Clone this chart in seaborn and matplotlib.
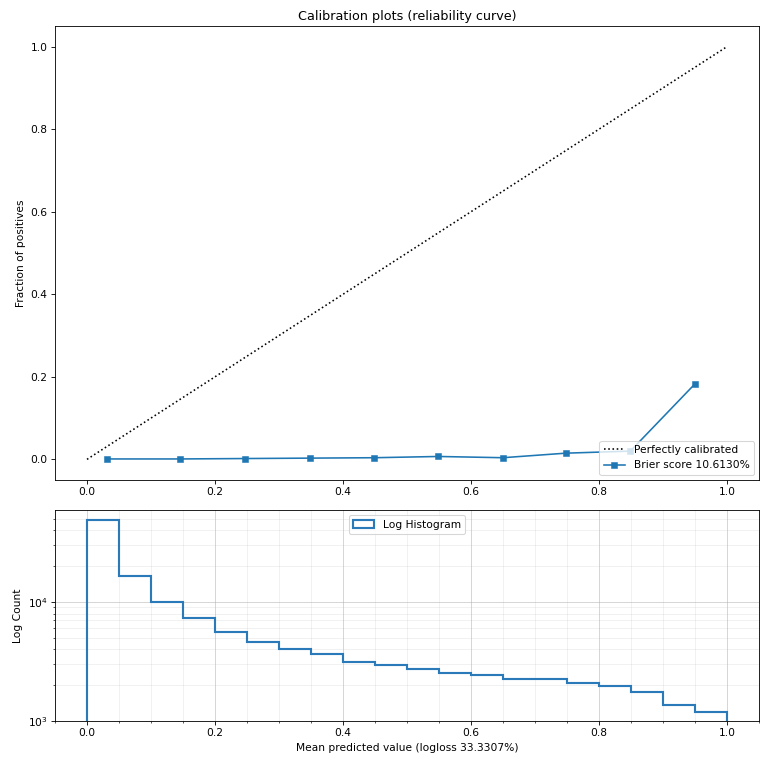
import numpy as np
import pandas as pd
import matplotlib
matplotlib.use("Agg")
import matplotlib.pyplot as plt
import seaborn as sns
from matplotlib.ticker import AutoMinorLocator

# Calibration curve data
mean_pred = [0.031, 0.145, 0.247, 0.348, 0.449, 0.549, 0.650, 0.748, 0.849, 0.950]
frac_pos = [0.001, 0.001, 0.002, 0.003, 0.004, 0.007, 0.004, 0.015, 0.020, 0.183]
perfect_x = [0.0, 1.0]
perfect_y = [0.0, 1.0]

# Histogram data (20 bins of width 0.05)
bin_edges = [round(0.05 * i, 2) for i in range(21)]
bin_counts = [49000, 16500, 10000, 7350, 5610, 4590, 4050, 3650, 3130, 2930,
              2730, 2510, 2430, 2270, 2270, 2070, 1950, 1740, 1350, 1200]

brier_label = "Brier score 10.6130%"
logloss_label = "Mean predicted value (logloss 33.3307%)"

DPI = 76.7
fig = plt.figure(figsize=(760 / DPI, 765 / DPI), dpi=DPI)
ax1 = fig.add_axes([55 / 760, (765 - 480) / 765, 704 / 760, 454 / 765])
ax2 = fig.add_axes([55 / 760, (765 - 721) / 765, 704 / 760, 211 / 765])

df_perfect = pd.DataFrame({"x": perfect_x, "y": perfect_y})
df_cal = pd.DataFrame({"x": mean_pred, "y": frac_pos})

sns.lineplot(data=df_perfect, x="x", y="y", ax=ax1, color="k", linestyle=":",
             label="Perfectly calibrated")
sns.lineplot(data=df_cal, x="x", y="y", ax=ax1, color="#1f77b4", marker="s",
             markersize=6, markeredgecolor="#1f77b4", markeredgewidth=0.5,
             label=brier_label)
ax1.set_xlim(-0.05, 1.05)
ax1.set_ylim(-0.05, 1.05)
ax1.set_xlabel("")
ax1.set_ylabel("Fraction of positives")
ax1.set_title("Calibration plots (reliability curve)")
ax1.legend(loc="lower right")

centers = [(bin_edges[i] + bin_edges[i + 1]) / 2 for i in range(len(bin_counts))]
ax2.hist(centers, bins=bin_edges, weights=bin_counts, histtype="step", lw=2,
         color="#2a7ab9", log=True, label="Log Histogram")
ax2.set_xlim(-0.05, 1.05)
ax2.set_ylim(1000, 59400)
ax2.set_xlabel(logloss_label)
ax2.set_ylabel("Log Count")
ax2.xaxis.set_minor_locator(AutoMinorLocator(4))
ax2.grid(True, which="major", color="#b0b0b0", alpha=0.6, lw=0.8)
ax2.grid(True, which="minor", color="#b0b0b0", alpha=0.2, lw=0.8)
ax2.set_axisbelow(True)
ax2.legend(loc="upper center")

fig.savefig("out.png", dpi=DPI)
